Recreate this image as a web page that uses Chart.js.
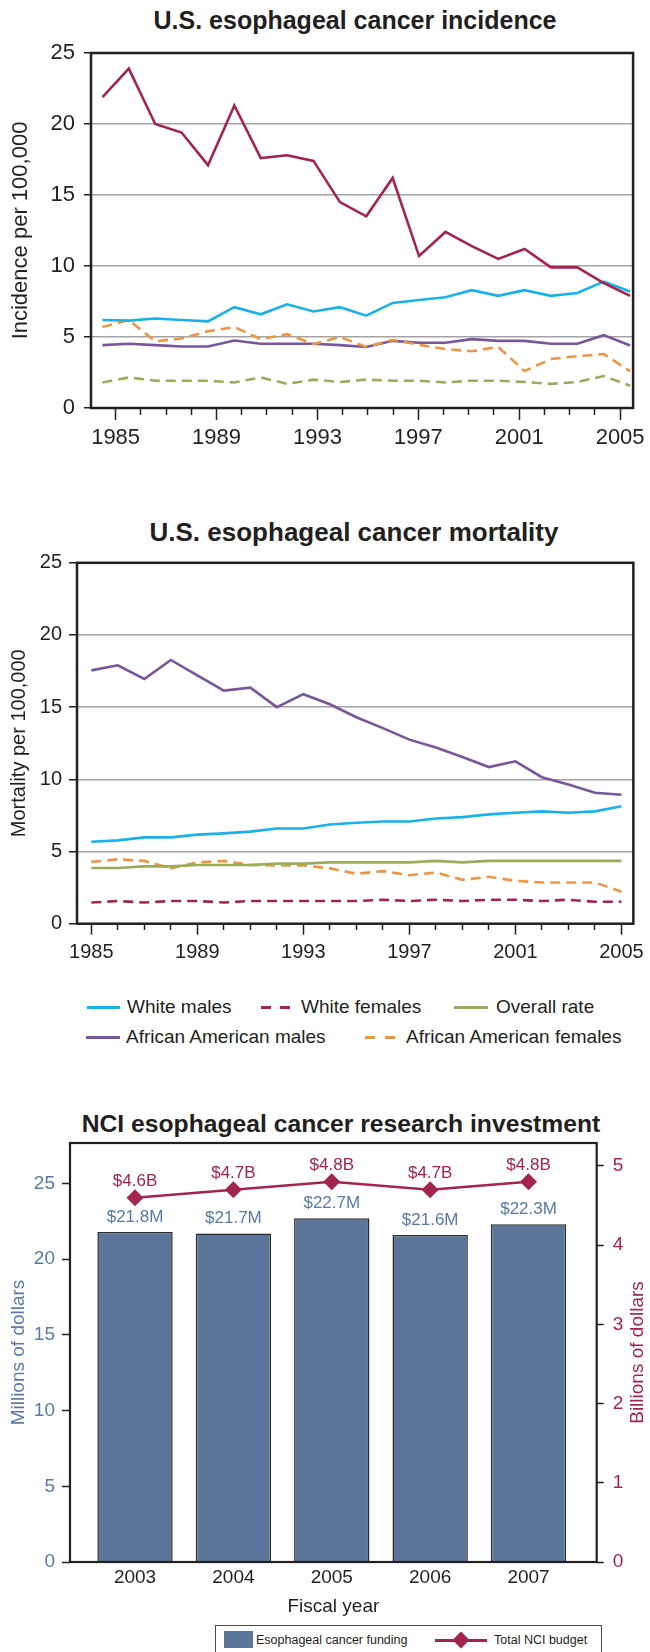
<!DOCTYPE html>
<html>
<head>
<meta charset="utf-8">
<script src="https://cdn.jsdelivr.net/npm/chart.js@4.4.0/dist/chart.umd.min.js"></script>
<style>
    body { margin: 0; width: 650px; height: 1652px; position: relative; background: #fff; overflow: hidden;
           font-family: "Liberation Sans", Arial, sans-serif; color: #231f20; }
    canvas { position: absolute; left: 0; }
    .titulo { position: absolute; width: 600px; text-align: center; font-weight: bold;
              line-height: 28px; white-space: nowrap; }
    .leg { position: absolute; font-size: 19px; line-height: 22px; white-space: nowrap; }
    .amostra { position: absolute; height: 0; }
    #legInvest { position: absolute; left: 215px; top: 1625px; width: 385px; height: 60px;
                 border: 1.5px solid #4a4a4a; font-size: 12.5px; }
</style>
</head>
<body>

<div class="titulo" style="left:55px; top:6px; font-size:25px;">U.S. esophageal cancer incidence</div>
<canvas id="chartIncidencia" width="650" height="470" style="top:0px"></canvas>

<div class="titulo" style="left:54px; top:518px; font-size:26px;">U.S. esophageal cancer mortality</div>
<canvas id="chartMortalidade" width="650" height="480" style="top:500px"></canvas>

<div class="amostra" style="left:87px; top:1006px; width:33px; border-top:3px solid #1ab0ea"></div>
<div class="leg" style="left:127px; top:996px">White males</div>
<div class="amostra" style="left:261px; top:1006px; width:10px; border-top:3px solid #a3254f"></div>
<div class="amostra" style="left:280px; top:1006px; width:10px; border-top:3px solid #a3254f"></div>
<div class="leg" style="left:301px; top:996px">White females</div>
<div class="amostra" style="left:454px; top:1006px; width:34px; border-top:3px solid #9bab5c"></div>
<div class="leg" style="left:496px; top:996px">Overall rate</div>
<div class="amostra" style="left:86px; top:1036px; width:34px; border-top:3px solid #77579a"></div>
<div class="leg" style="left:126px; top:1026px">African American males</div>
<div class="amostra" style="left:365px; top:1036px; width:10px; border-top:3px solid #ec9546"></div>
<div class="amostra" style="left:385px; top:1036px; width:10px; border-top:3px solid #ec9546"></div>
<div class="leg" style="left:406px; top:1026px">African American females</div>

<div class="titulo" style="left:41px; top:1110px; font-size:24.7px;">NCI esophageal cancer research investment</div>
<canvas id="chartInvestimento" width="650" height="520" style="top:1100px"></canvas>

<div id="legInvest">
    <div style="position:absolute; left:8px; top:5px; width:29px; height:17px; background:#5c769b"></div>
    <div style="position:absolute; left:40px; top:7px; line-height:14px">Esophageal cancer funding</div>
    <div style="position:absolute; left:219px; top:13px; width:52px; border-top:3px solid #a3254f"></div>
    <div style="position:absolute; left:239px; top:8px; width:12px; height:12px; background:#a3254f; transform:rotate(45deg)"></div>
    <div style="position:absolute; left:278px; top:7px; line-height:14px">Total NCI budget</div>
</div>

<script>
// ---- dados ----
const anos = [1985, 1986, 1987, 1988, 1989, 1990, 1991, 1992, 1993, 1994, 1995,
              1996, 1997, 1998, 1999, 2000, 2001, 2002, 2003, 2004, 2005];

// incidencia por 100.000
const incAfroHomens   = [21.9, 23.9, 20.0, 19.4, 17.1, 21.3, 17.6, 17.8, 17.4, 14.5, 13.5, 16.2, 10.7, 12.4, 11.4, 10.5, 11.2, 9.9, 9.9, 8.8, 7.9];
const incBrancoHomens = [6.2, 6.15, 6.3, 6.2, 6.1, 7.1, 6.6, 7.3, 6.8, 7.1, 6.5, 7.4, 7.6, 7.8, 8.3, 7.9, 8.3, 7.9, 8.1, 8.9, 8.2];
const incAfroMulheres = [5.7, 6.2, 4.7, 4.9, 5.4, 5.7, 4.85, 5.2, 4.5, 5.0, 4.3, 4.8, 4.45, 4.15, 4.0, 4.3, 2.6, 3.45, 3.65, 3.8, 2.6];
const incGeral        = [4.43, 4.52, 4.43, 4.33, 4.33, 4.75, 4.52, 4.52, 4.52, 4.43, 4.3, 4.73, 4.6, 4.6, 4.85, 4.73, 4.73, 4.52, 4.52, 5.13, 4.4];
const incBrancoMulh   = [1.8, 2.15, 1.92, 1.92, 1.92, 1.8, 2.15, 1.7, 2.0, 1.83, 2.0, 1.92, 1.92, 1.8, 1.92, 1.92, 1.83, 1.7, 1.83, 2.25, 1.57];

// mortalidade por 100.000
const morAfroHomens   = [17.55, 17.9, 16.95, 18.27, 17.2, 16.15, 16.35, 15.0, 15.9, 15.2, 14.3, 13.55, 12.75, 12.2, 11.55, 10.85, 11.25, 10.15, 9.65, 9.07, 8.93];
const morBrancoHomens = [5.68, 5.77, 5.98, 5.98, 6.17, 6.26, 6.38, 6.59, 6.59, 6.87, 6.99, 7.08, 7.08, 7.29, 7.38, 7.57, 7.69, 7.78, 7.69, 7.78, 8.13];
const morGeral        = [3.86, 3.86, 3.97, 3.97, 4.07, 4.07, 4.07, 4.16, 4.16, 4.25, 4.25, 4.25, 4.25, 4.35, 4.25, 4.35, 4.35, 4.35, 4.35, 4.35, 4.35];
const morAfroMulheres = [4.28, 4.46, 4.35, 3.83, 4.25, 4.35, 4.07, 4.04, 4.04, 3.83, 3.46, 3.64, 3.36, 3.55, 3.04, 3.25, 2.97, 2.85, 2.85, 2.85, 2.22];
const morBrancoMulh   = [1.47, 1.57, 1.47, 1.57, 1.57, 1.47, 1.57, 1.57, 1.57, 1.57, 1.57, 1.66, 1.57, 1.66, 1.57, 1.66, 1.66, 1.57, 1.66, 1.52, 1.52];

// investimento
const anosFiscais = [2003, 2004, 2005, 2006, 2007];
const financiamentoMilhoes = [21.8, 21.7, 22.7, 21.6, 22.3];
const orcamentoNciBilhoes  = [4.6, 4.7, 4.8, 4.7, 4.8];

const anosMarcados = [1985, 1989, 1993, 1997, 2001, 2005];

// ---- cores ----
const corTexto = '#231f20';
const corVinho = '#a3254f';
const corAzul = '#1ab0ea';
const corLaranja = '#ec9546';
const corRoxo = '#77579a';
const corVerde = '#9bab5c';
const corBarra = '#5c769b';
const corAzulTexto = '#5a79a8';

Chart.defaults.font.family = '"Liberation Sans", Arial, sans-serif';
Chart.defaults.color = corTexto;
Chart.defaults.animation = false;

const pluginMoldura = {
    id: 'moldura',
    afterDraw(chart, args, opts) {
        const { ctx, chartArea: a } = chart;
        ctx.save();
        ctx.strokeStyle = corTexto;
        ctx.lineWidth = opts.largura || 2.5;
        ctx.strokeRect(a.left, a.top, a.right - a.left, a.bottom - a.top);
        ctx.restore();
    }
};

function tickMaior(ctx) {
    return ctx.tick && anosMarcados.includes(ctx.tick.value);
}

function linha(label, dados, cor, tracejado) {
    return {
        label: label,
        data: dados,
        borderColor: cor,
        backgroundColor: cor,
        borderWidth: 2.6,
        borderDash: tracejado ? [10, 6] : [],
        pointRadius: 0,
        xAxisID: 'x',
        yAxisID: 'y'
    };
}

function carregarGraficoIncidencia() {
    new Chart(document.getElementById('chartIncidencia'), {
        type: 'line',
        data: {
            labels: anos,
            datasets: [
                linha('African American males', incAfroHomens, corVinho, false),
                linha('White males', incBrancoHomens, corAzul, false),
                linha('African American females', incAfroMulheres, corLaranja, true),
                linha('Overall rate', incGeral, corRoxo, false),
                linha('White females', incBrancoMulh, corVerde, true)
            ]
        },
        options: {
            responsive: false,
            layout: { padding: { top: 53, right: 15, left: 0, bottom: 0 } },
            plugins: { legend: { display: false }, tooltip: { enabled: false }, moldura: { largura: 2.5 } },
            scales: {
                x: {
                    type: 'linear', display: false,
                    min: 1984.566, max: 2005.113
                },
                xt: {
                    type: 'linear', position: 'bottom', axis: 'x',
                    min: 1984.024, max: 2005.514,
                    afterFit: (s) => { s.height = 62; },
                    border: { display: false },
                    grid: {
                        drawOnChartArea: false, tickLength: 12, tickColor: corTexto, tickWidth: 1.5,
                        tickBorderDash: (ctx) => tickMaior(ctx) ? [] : [7, 30]
                    },
                    ticks: {
                        stepSize: 1, includeBounds: false, autoSkip: false, maxRotation: 0,
                        font: { size: 22 }, padding: 5,
                        callback: (v) => anosMarcados.includes(v) ? String(v) : ''
                    }
                },
                y: {
                    min: 0, max: 25,
                    afterFit: (s) => { s.width = 91; },
                    border: { display: false },
                    grid: { color: '#a3a3a3', lineWidth: 1.5, tickLength: 7, tickColor: corTexto },
                    ticks: { stepSize: 5, font: { size: 22 }, padding: 9 },
                    title: { display: true, text: 'Incidence per 100,000', font: { size: 22 }, padding: { top: 7.5, bottom: 0 } }
                }
            }
        },
        plugins: [pluginMoldura]
    });
}

function carregarGraficoMortalidade() {
    new Chart(document.getElementById('chartMortalidade'), {
        type: 'line',
        data: {
            labels: anos,
            datasets: [
                linha('African American males', morAfroHomens, corRoxo, false),
                linha('White males', morBrancoHomens, corAzul, false),
                linha('Overall rate', morGeral, corVerde, false),
                linha('African American females', morAfroMulheres, corLaranja, true),
                linha('White females', morBrancoMulh, corVinho, true)
            ]
        },
        options: {
            responsive: false,
            layout: { padding: { top: 62.8, right: 15, left: 0, bottom: 0 } },
            plugins: { legend: { display: false }, tooltip: { enabled: false }, moldura: { largura: 2.5 } },
            scales: {
                x: {
                    type: 'linear', min: 1984.46, max: 2005.45,
                    afterFit: (s) => { s.height = 56.3; },
                    border: { display: false },
                    grid: {
                        drawOnChartArea: false, tickLength: 11, tickColor: corTexto, tickWidth: 1.5,
                        tickBorderDash: (ctx) => tickMaior(ctx) ? [] : [6, 30]
                    },
                    ticks: {
                        stepSize: 1, includeBounds: false, autoSkip: false, maxRotation: 0,
                        font: { size: 20 }, padding: 6,
                        callback: (v) => anosMarcados.includes(v) ? String(v) : ''
                    }
                },
                y: {
                    min: 0, max: 25,
                    afterFit: (s) => { s.width = 77; },
                    border: { display: false },
                    grid: { color: '#a3a3a3', lineWidth: 1.5, tickLength: 8, tickColor: corTexto },
                    ticks: { stepSize: 5, font: { size: 20 }, padding: 7 },
                    title: { display: true, text: 'Mortality per 100,000', font: { size: 20 }, padding: { top: 7.5, bottom: 0 } }
                }
            }
        },
        plugins: [pluginMoldura]
    });
}

const pluginRotulos = {
    id: 'rotulos',
    afterDatasetsDraw(chart) {
        const ctx = chart.ctx;
        chart.data.datasets.forEach((ds, i) => {
            const meta = chart.getDatasetMeta(i);
            meta.data.forEach((el, j) => {
                ctx.save();
                ctx.font = '17px "Liberation Sans", Arial, sans-serif';
                ctx.fillStyle = ds.corRotulo;
                ctx.textAlign = 'center';
                ctx.textBaseline = 'middle';
                ctx.fillText('$' + ds.data[j].toFixed(1) + ds.sufixo, el.x, el.y - ds.distRotulo);
                ctx.restore();
            });
        });
    }
};

const pluginTituloDireita = {
    id: 'tituloDireita',
    afterDraw(chart, args, opts) {
        const { ctx, chartArea: a } = chart;
        ctx.save();
        ctx.translate(opts.x, (a.top + a.bottom) / 2);
        ctx.rotate(-Math.PI / 2);
        ctx.font = '19px "Liberation Sans", Arial, sans-serif';
        ctx.fillStyle = opts.cor;
        ctx.textAlign = 'center';
        ctx.textBaseline = 'middle';
        ctx.fillText(opts.texto, 0, 0);
        ctx.restore();
    }
};

function carregarGraficoInvestimento() {
    new Chart(document.getElementById('chartInvestimento'), {
        type: 'bar',
        data: {
            labels: anosFiscais,
            datasets: [
                {
                    type: 'line',
                    label: 'Total NCI budget',
                    data: orcamentoNciBilhoes,
                    borderColor: corVinho,
                    backgroundColor: corVinho,
                    borderWidth: 2.5,
                    pointStyle: 'rectRot',
                    pointRadius: 8.5,
                    pointBorderWidth: 0,
                    xAxisID: 'x',
                    yAxisID: 'y1',
                    order: 0,
                    corRotulo: corVinho, sufixo: 'B', distRotulo: 16
                },
                {
                    type: 'bar',
                    label: 'Esophageal cancer funding',
                    data: financiamentoMilhoes,
                    backgroundColor: corBarra,
                    borderColor: '#2b2b2b',
                    borderWidth: 1.5,
                    categoryPercentage: 1,
                    barPercentage: 0.766,
                    xAxisID: 'x',
                    yAxisID: 'y',
                    order: 1,
                    corRotulo: corAzulTexto, sufixo: 'M', distRotulo: 15
                }
            ]
        },
        options: {
            responsive: false,
            layout: { padding: { top: 43, right: 0, left: 0, bottom: 0 } },
            plugins: {
                legend: { display: false }, tooltip: { enabled: false },
                moldura: { largura: 2.2 },
                tituloDireita: { x: 638, texto: 'Billions of dollars', cor: corVinho }
            },
            scales: {
                x: {
                    type: 'linear', offset: false,
                    min: 2002.339, max: 2007.693,
                    afterFit: (s) => { s.height = 58; },
                    border: { display: false },
                    grid: { display: false, drawTicks: false, offset: false },
                    ticks: {
                        stepSize: 1, includeBounds: false, autoSkip: false, maxRotation: 0,
                        font: { size: 19 }, padding: 4.6,
                        callback: (v) => String(v)
                    },
                    title: { display: true, text: 'Fiscal year', font: { size: 19 }, padding: { top: 0, bottom: 1.6 } }
                },
                y: {
                    position: 'left', min: 0, max: 27.67,
                    afterFit: (s) => { s.width = 70; },
                    border: { display: false },
                    grid: { drawOnChartArea: false, tickLength: 8, tickColor: corTexto, tickWidth: 1.5 },
                    ticks: { stepSize: 5, includeBounds: false, font: { size: 19 }, color: corAzulTexto, padding: 7 },
                    title: { display: true, text: 'Millions of dollars', font: { size: 19 }, color: corAzulTexto, padding: { top: 7.2, bottom: 0 } }
                },
                y1: {
                    position: 'right', min: 0, max: 5.29,
                    afterFit: (s) => { s.width = 53.3; },
                    border: { display: false },
                    grid: { drawOnChartArea: false, tickLength: 7, tickColor: corTexto, tickWidth: 1.5 },
                    ticks: { stepSize: 1, includeBounds: false, font: { size: 19 }, color: corVinho, padding: 9 }
                }
            }
        },
        plugins: [pluginMoldura, pluginRotulos, pluginTituloDireita]
    });
}

carregarGraficoIncidencia();
carregarGraficoMortalidade();
carregarGraficoInvestimento();
</script>
</body>
</html>
